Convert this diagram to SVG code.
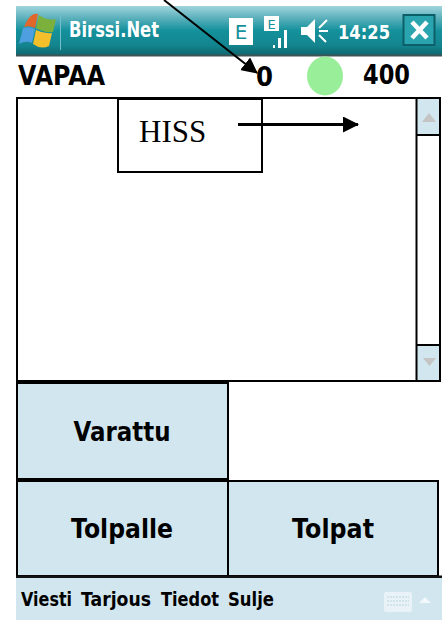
<svg xmlns="http://www.w3.org/2000/svg" width="442" height="620" viewBox="0 0 442 620">
<style>
.b{font-family:"DejaVu Sans","Noto Sans",sans-serif;font-weight:700;fill:#000}
.w{font-family:"DejaVu Sans","Noto Sans",sans-serif;font-weight:700;fill:#fff}
.btn{fill:#d1e6ef;stroke:#000;stroke-width:2}
.ln{stroke:#000;fill:none}
</style>
<defs>
<linearGradient id="bar" x1="0" y1="0" x2="0" y2="1">
<stop offset="0" stop-color="#a2d5dc"/><stop offset=".22" stop-color="#62b4bf"/><stop offset=".5" stop-color="#14919c"/><stop offset=".8" stop-color="#13858f"/><stop offset="1" stop-color="#0f6870"/>
</linearGradient>
<marker id="ah" markerUnits="userSpaceOnUse" markerWidth="16" markerHeight="16" refX="15" refY="8" orient="auto"><path d="M0 0 L16 8 L0 16 Z" fill="#000"/></marker>
</defs>
<rect width="442" height="620" fill="#fff"/>
<g id="titlebar">
<rect x="16" y="6" width="426" height="49" fill="url(#bar)"/>
<rect x="16" y="54.500" width="426" height="2" fill="#3d5457"/>
<path d="M24 27 Q30 12 38 14 L35 28 Q29 25 24 27Z" fill="#e0662a"/>
<path d="M39 15 Q47 21 56 19 L53 32 Q44 33 36 28Z" fill="#7bb03c"/>
<path d="M23 28 Q29 26 35 29 L32 43 Q26 40 19 44Z" fill="#4d9fe0"/>
<path d="M36 30 Q44 34 52 33 L49 46 Q41 50 33 44Z" fill="#f3c02c"/>
<rect x="60" y="13" width="1" height="37" fill="#6fc0c8"/>
<text class="w" x="69" y="37" font-size="21" textLength="90" lengthAdjust="spacingAndGlyphs">Birssi.Net</text>
<rect x="229" y="18" width="24" height="27" fill="#fff"/>
<text x="241" y="39" font-size="20" text-anchor="middle" font-family="DejaVu Sans,sans-serif" fill="#14919c">E</text>
<rect x="264" y="16" width="15" height="15" fill="#fff"/>
<text x="271.500" y="29" font-size="13" text-anchor="middle" font-family="DejaVu Sans,sans-serif" fill="#14919c">E</text>
<rect x="273" y="45" width="2" height="3" fill="#fff"/><rect x="278" y="38" width="3" height="10" fill="#fff"/><rect x="284" y="30" width="3" height="18" fill="#fff"/>
<path d="M301 27 H307 L315 19 V43 L307 35 H301Z" fill="#fff"/>
<path d="M319 28 L327 20 M319 31 H328 M319 35 L326 42" stroke="#fff" stroke-width="2" fill="none"/>
<text class="w" x="338" y="39" font-size="20" textLength="52" lengthAdjust="spacingAndGlyphs">14:25</text>
<rect x="403.500" y="15" width="31" height="30" fill="#2aa5b0" stroke="#0c5f68" stroke-width="2"/>
<path d="M412 22 L427 38 M427 22 L412 38" stroke="#fff" stroke-width="4.500" fill="none"/>
</g>
<g id="status">
<text class="b" x="18" y="85" font-size="27" textLength="87" lengthAdjust="spacingAndGlyphs">VAPAA</text>
<text class="b" x="256" y="86" font-size="27" textLength="17" lengthAdjust="spacingAndGlyphs">0</text>
<ellipse cx="325" cy="76" rx="18" ry="19.500" fill="#99ee99"/>
<text class="b" x="363" y="84" font-size="27" textLength="47" lengthAdjust="spacingAndGlyphs">400</text>
</g>
<g id="list">
<rect x="17" y="98" width="423" height="283" fill="#fff" stroke="#000" stroke-width="2"/>
<rect x="417" y="99" width="22" height="35" fill="#d1e6ef"/>
<rect x="417" y="346" width="22" height="34" fill="#d1e6ef"/>
<path d="M416.500 98 V381 M417 135 H440 M417 345 H440" stroke="#000" stroke-width="2" fill="none"/>
<path d="M429 113 L436 122 H422Z" fill="#c4c4c4"/>
<path d="M423 358 H436 L429.500 366Z" fill="#c4c4c4"/>
</g>
<g id="hiss">
<rect x="118" y="99" width="144" height="73" fill="#fff" stroke="#000" stroke-width="2"/>
<text x="139" y="142" font-size="31" font-family="Liberation Serif,serif" fill="#000">HISS</text>
</g>
<g id="varattu">
<rect class="btn" x="17" y="383" width="211" height="96"/>
<text class="b" x="122" y="441" font-size="27" text-anchor="middle" textLength="97" lengthAdjust="spacingAndGlyphs">Varattu</text>
</g>
<g id="tolpalle">
<rect class="btn" x="17" y="481" width="211" height="95"/>
<text class="b" x="122" y="538" font-size="27" text-anchor="middle" textLength="102" lengthAdjust="spacingAndGlyphs">Tolpalle</text>
</g>
<g id="tolpat">
<rect class="btn" x="228" y="481" width="210" height="95"/>
<text class="b" x="333" y="538" font-size="27" text-anchor="middle" textLength="82" lengthAdjust="spacingAndGlyphs">Tolpat</text>
</g>
<g id="menu">
<rect x="16" y="578" width="426" height="42" fill="#d1e6ef"/>
<rect x="16" y="575.500" width="426" height="2.500" fill="#111"/>
<text class="b" x="21" y="606" font-size="20" textLength="51" lengthAdjust="spacingAndGlyphs">Viesti</text>
<text class="b" x="81" y="606" font-size="20" textLength="70" lengthAdjust="spacingAndGlyphs">Tarjous</text>
<text class="b" x="161" y="606" font-size="20" textLength="58" lengthAdjust="spacingAndGlyphs">Tiedot</text>
<text class="b" x="228" y="606" font-size="20" textLength="46" lengthAdjust="spacingAndGlyphs">Sulje</text>
<rect x="384" y="592" width="28" height="20" rx="2" fill="#e9f3f7"/>
<path d="M387 597 H409 M387 601 H409 M387 605 H409" stroke="#c9dfe8" stroke-width="1.500" stroke-dasharray="2 1"/>
<path d="M419 603 L425 597 L431 603Z" fill="#f2f8fa"/>
</g>
<g id="connectors">
<path class="ln" stroke-width="2" d="M164 0 L257 73" marker-end="url(#ah)"/>
<path class="ln" stroke-width="3" d="M238 124.500 H358" marker-end="url(#ah)"/>
</g>
</svg>
